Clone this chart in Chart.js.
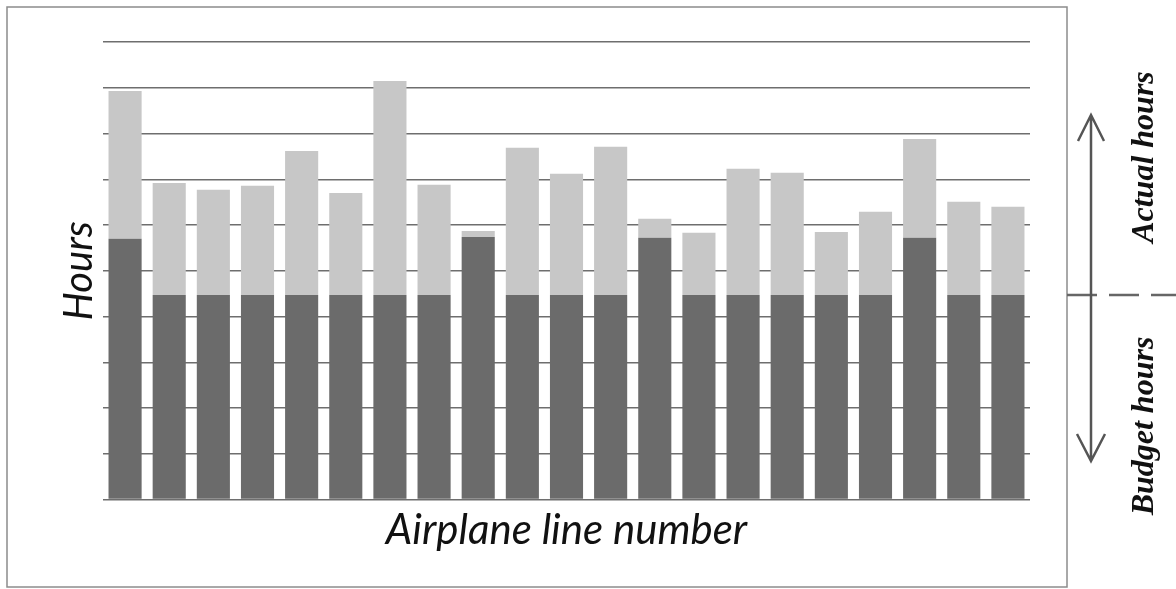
<!DOCTYPE html>
<html>
<head>
<meta charset="utf-8">
<title>Budget vs actual hours</title>
<script src="https://cdn.jsdelivr.net/npm/chart.js@4.4.1/dist/chart.umd.min.js"></script>
<style>
    body { margin: 0; background: #fff; }
    canvas { display: block; }
</style>
</head>
<body>
<canvas id="chart" width="1176" height="589"></canvas>
<script>
// airplane line numbers (no tick labels shown in the original)
const lineNumbers = ['1', '2', '3', '4', '5', '6', '7', '8', '9', '10', '11',
    '12', '13', '14', '15', '16', '17', '18', '19', '20', '21'];

// hours on a 0-10 grid
const budgetHours = [5.70, 4.47, 4.47, 4.47, 4.47, 4.47, 4.47, 4.47, 5.74, 4.47, 4.47,
    4.47, 5.72, 4.47, 4.47, 4.47, 4.47, 4.47, 5.72, 4.47, 4.47];
const actualHours = [8.93, 6.92, 6.77, 6.86, 7.62, 6.70, 9.15, 6.88, 5.87, 7.69, 7.12,
    7.71, 6.14, 5.83, 7.23, 7.14, 5.85, 6.29, 7.88, 6.51, 6.40];

const standardBudget = 4.47;   // where the dashed budget/actual divider sits
const gridMax = 10;

const overrunHours = actualHours.map((a, i) => Math.max(0, +(a - budgetHours[i]).toFixed(2)));

const DARK = '#6b6b6b';
const LIGHT = '#c7c7c7';

// frame around the chart plus the arrows and notes on the right
const sideNotes = {
    id: 'sideNotes',
    afterDraw(chart) {
        const ctx = chart.ctx;
        const yDiv = chart.scales.y.getPixelForValue(standardBudget);
        ctx.save();

        ctx.strokeStyle = '#8c8c8c';
        ctx.lineWidth = 1.5;
        ctx.strokeRect(7, 7, 1060, 580);

        // dashed divider
        ctx.strokeStyle = '#666';
        ctx.lineWidth = 2.5;
        ctx.setLineDash([30, 12]);
        ctx.beginPath();
        ctx.moveTo(1067, yDiv);
        ctx.lineTo(1176, yDiv);
        ctx.stroke();
        ctx.setLineDash([]);

        // arrows
        ctx.strokeStyle = '#555';
        ctx.lineWidth = 2.5;
        ctx.beginPath();
        ctx.moveTo(1091, yDiv);
        ctx.lineTo(1091, 115);
        ctx.moveTo(1078, 141);
        ctx.lineTo(1091, 115);
        ctx.lineTo(1104, 141);
        ctx.moveTo(1091, yDiv);
        ctx.lineTo(1091, 461);
        ctx.moveTo(1077, 434);
        ctx.lineTo(1091, 461);
        ctx.lineTo(1105, 434);
        ctx.stroke();

        // rotated notes
        ctx.fillStyle = '#111';
        ctx.font = 'italic bold 32px "Liberation Serif"';
        ctx.textAlign = 'center';
        ctx.textBaseline = 'alphabetic';
        ctx.translate(1153, 157);
        ctx.rotate(-Math.PI / 2);
        ctx.fillText('Actual hours', 0, 0);
        ctx.rotate(Math.PI / 2);
        ctx.translate(0, 269);
        ctx.rotate(-Math.PI / 2);
        ctx.fillText('Budget hours', 0, 0);

        ctx.restore();
    }
};

const ctx = document.getElementById('chart').getContext('2d');

new Chart(ctx, {
    type: 'bar',
    data: {
        labels: lineNumbers,
        datasets: [
            {
                label: 'Budget hours',
                data: budgetHours,
                backgroundColor: DARK,
                borderWidth: 0,
                barPercentage: 0.75,
                categoryPercentage: 1.0
            },
            {
                label: 'Actual hours over budget',
                data: overrunHours,
                backgroundColor: LIGHT,
                borderWidth: 0,
                barPercentage: 0.75,
                categoryPercentage: 1.0
            }
        ]
    },
    options: {
        responsive: false,
        animation: false,
        events: [],
        layout: {
            padding: { left: 55, right: 146, top: 42, bottom: 33 }
        },
        plugins: {
            legend: { display: false },
            tooltip: { enabled: false }
        },
        scales: {
            x: {
                stacked: true,
                grid: { display: false, drawTicks: false },
                border: { display: false },
                ticks: { display: false },
                title: {
                    display: true,
                    text: 'Airplane line number',
                    color: '#111',
                    font: { family: 'Lato', style: 'italic', size: 42 },
                    padding: { top: 6, bottom: 0 }
                }
            },
            y: {
                stacked: true,
                min: 0,
                max: gridMax,
                grid: { color: '#6e6e6e', lineWidth: 1.5, drawTicks: false },
                border: { display: false },
                ticks: { display: false, stepSize: 1 },
                title: {
                    display: true,
                    text: 'Hours',
                    color: '#111',
                    font: { family: 'Lato', style: 'italic', size: 40 },
                    padding: { top: 0, bottom: 0 }
                }
            }
        }
    },
    plugins: [sideNotes]
});
</script>
</body>
</html>
